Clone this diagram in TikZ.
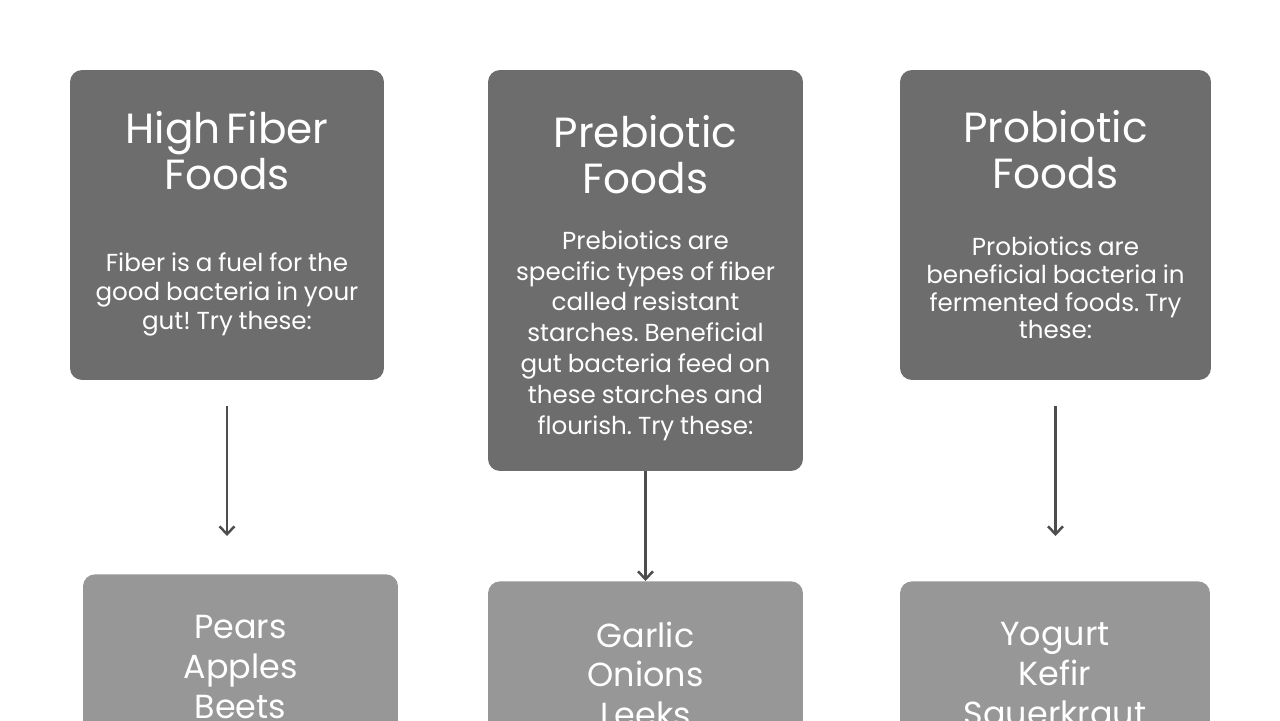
\documentclass[tikz,border=0pt]{standalone}
\usepackage{fontspec}
\setmainfont{Poppins}
\frenchspacing
\usetikzlibrary{positioning, arrows.meta}
\definecolor{topgrau}{RGB}{109,109,109}
\definecolor{untengrau}{RGB}{151,151,151}
\definecolor{pfeilgrau}{RGB}{77,77,77}
\newcommand{\kopfschrift}{\fontsize{24}{26}\selectfont}
\newcommand{\textschrift}{\fontsize{14}{16.5}\selectfont}
\newcommand{\listeschrift}{\fontsize{19}{22.7}\selectfont}
\tikzset{
	box/.style = {rectangle, rounded corners=6.8pt, text=white, align=center, inner sep=0pt, text width=6cm},
	arrow/.style = {-{Straight Barb[length=4.5pt, width=8.5pt]}, line width=1.4pt, draw=pfeilgrau}
}

\begin{document}
\begin{tikzpicture}[
			x=0.02cm, y=-0.02cm,
			darkbox/.style={box, fill=topgrau},
			lightbox/.style={box, fill=untengrau, font=\listeschrift, minimum height=3.72cm, anchor=north}
			]
			\useasboundingbox[fill=white] (0,0) rectangle (1280,720);
			\clip (0,0) rectangle (1280,720);
			
			% obere Reihe
			\node[darkbox, minimum width=6.28cm, minimum height=6.2cm] (T1) at (227,225) {\kopfschrift High Fiber\\Foods\par\vspace{30pt}\textschrift Fiber is a fuel for the\\good bacteria in your\\gut! Try these:\par\vspace{1.5pt}};
			\node[darkbox, minimum width=6.3cm, minimum height=8.02cm] (T2) at (645.5,270.5) {\kopfschrift Prebiotic\\Foods\par\vspace{14pt}\fontsize{14}{17.6}\selectfont Prebiotics are\\specific types of fiber\\called resistant\\starches. Beneficial\\gut bacteria feed on\\these starches and\\flourish. Try these:\par\vspace{-9pt}};
			\node[darkbox, minimum width=6.22cm, minimum height=6.2cm] (T3) at (1055.5,225) {\kopfschrift Probiotic\\Foods\par\vspace{22pt}\fontsize{14}{15.9}\selectfont Probiotics are\\beneficial bacteria in\\fermented foods. Try\\these:\par};
			
			% untere Reihe
			\node[lightbox, minimum width=6.3cm] (B1) at (240.5,574) {Pears\\Apples\\Beets};
			\node[lightbox, minimum width=6.3cm] (B2) at (645.5,581) {Garlic\\Onions\\Leeks};
			\node[lightbox, minimum width=6.2cm] (B3) at (1055,581) {Yogurt\\Kefir\\Sauerkraut};
			
			% Pfeile
			\draw[arrow, shorten <=0.52cm, shorten >=0.76cm] (T1.south) -- (T1.south |- B1.north);
			\draw[arrow] (T2.south) -- (B2.north);
			\draw[arrow, shorten <=0.52cm, shorten >=0.9cm] (T3.south) -- (T3.south |- B3.north);
		\end{tikzpicture}
\end{document}
